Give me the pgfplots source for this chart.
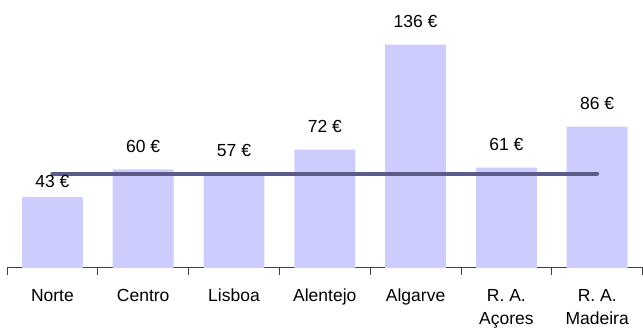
\documentclass[border=0pt]{standalone}
\usepackage{fontspec}
\setmainfont{Liberation Sans}
\usepackage{pgfplots}
\pgfplotsset{compat=1.18}

\definecolor{barfill}{HTML}{CCCCFF}
\definecolor{avgline}{HTML}{5C5C8A}
\definecolor{axisgray}{HTML}{404040}

\begin{document}
\begin{tikzpicture}
\begin{axis}[
  scale only axis,
  width=636bp, height=268.3bp,
  xmin=-0.5, xmax=6.5, ymin=0, ymax=163.4,
  enlargelimits=false,
  clip=false,
  axis x line*=bottom,
  axis y line=none,
  x axis line style={axisgray, line width=0.8bp, -},
  xtick={0,...,6},
  xticklabels={Norte, Centro, Lisboa, Alentejo, Algarve, {R. A.\\Açores}, {R. A.\\Madeira}},
  major tick length=0pt,
  minor xtick={-0.5,0.5,...,6.5},
  minor tick length=7bp,
  tick align=outside,
  minor tick style={axisgray, line width=0.8bp},
  xticklabel style={font=\fontsize{17.5bp}{23.5bp}\selectfont, align=center,
    anchor=north, inner sep=0pt, yshift=-21bp},
  /pgf/number format/assume math mode=true,
  bar style/.style={ybar, bar width=61bp, bar shift=0pt, draw=none, fill=barfill,
    nodes near coords={\pgfmathprintnumber{\pgfplotspointmeta}~€},
    every node near coord/.append style={font=\fontsize{17.5bp}{20bp}\selectfont,
      anchor=south, inner sep=0pt, text=black}},
]
\coordinate (ll) at (rel axis cs:0,0);
% Norte: its label sits just under the reference line
\addplot[bar style, every node near coord/.append style={yshift=9bp}]
  coordinates {(0,43)};
\addplot[bar style, every node near coord/.append style={yshift=17bp}]
  coordinates {(1,60) (2,57) (3,72) (4,136) (5,61) (6,86)};
\addplot[avgline, line width=4bp, line cap=round, mark=none]
  coordinates {(0,57.4) (6,57.4)};
\end{axis}
\path (ll) ++(-7bp,-59bp) rectangle ++(643bp,327bp);
\end{tikzpicture}
\end{document}
